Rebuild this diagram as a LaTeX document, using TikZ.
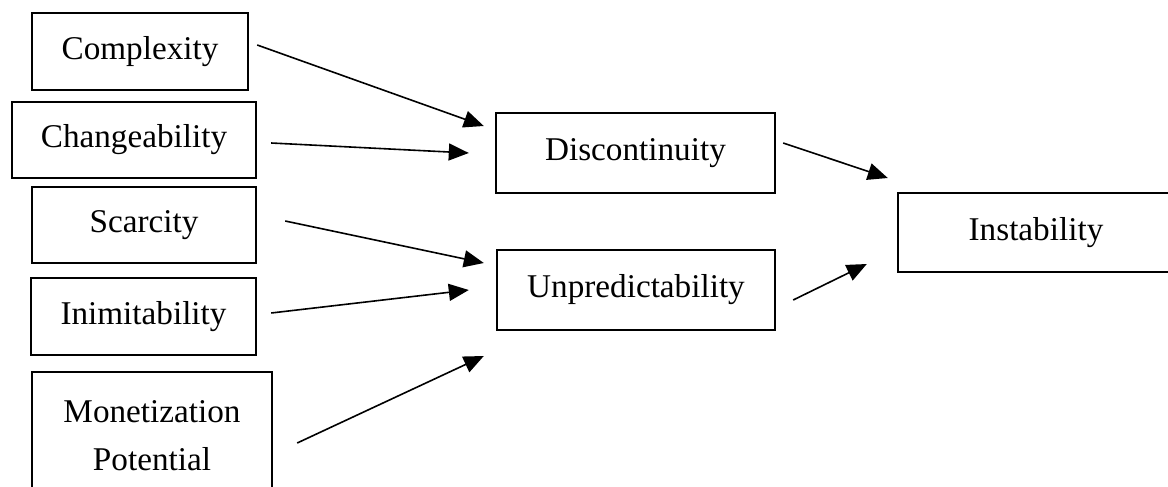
\documentclass[tikz,border=0pt]{standalone}
\usepackage{fontspec}
\setmainfont{Liberation Serif}
\usetikzlibrary{arrows.meta,calc}

\begin{document}
\begin{tikzpicture}[x=0.5pt, y=-0.5pt,
    box/.style={draw, line width=1.2pt, rectangle, inner sep=0pt, align=center,
                font=\fontsize{16.6}{24}\selectfont},
    arr/.style={line width=0.8pt, -{Triangle[length=10pt, width=8.5pt]}}]
    \useasboundingbox (0, 0) rectangle (1168, 487);
    \clip (0, 0) rectangle (1168, 487);

    % left column
    \node[box, minimum width=108pt, minimum height=38.5pt] (cplx) at (140, 51.5) {Complexity};
    \node[box, minimum width=122pt, minimum height=38pt] (chng) at (134, 140) {Changeability};
    \node[box, minimum width=112pt, minimum height=38pt] (scar) at (144, 225) {Scarcity};
    \node[box, minimum width=112.5pt, minimum height=38.5pt] (inim) at (143.5, 316.5) {Inimitability};
    \node[box, minimum width=120pt, minimum height=64pt] (mone) at (152, 436) {Monetization\\Potential};

    % middle and right
    \node[box, minimum width=139.5pt, minimum height=40pt] (disc) at (635.5, 153) {Discontinuity};
    \node[box, minimum width=139pt, minimum height=40pt] (unpr) at (636, 290) {Unpredictability};
    \node[box, minimum width=138pt, minimum height=39.5pt] (inst) at (1036, 232.5) {Instability};

    \draw[arr] ($(cplx.east)+(8, -6.5)$) -- ($(disc.west)+(-11, -27)$);
    \draw[arr] ($(chng.east)+(14, 3)$) -- ($(disc.west)+(-26, 0)$);
    \draw[arr] ($(scar.east)+(28, -4)$) -- ($(unpr.west)+(-12, -27)$);
    \draw[arr] ($(inim.east)+(14, -3.5)$) -- ($(unpr.west)+(-27, 0)$);
    \draw[arr] ($(mone.east)+(24, 7)$) -- ($(unpr.west)+(-12, 66)$);

    \draw[arr] ($(disc.east)+(7, -10)$) -- ($(inst.west)+(-9, -54.5)$);
    \draw[arr] ($(unpr.east)+(17, 10)$) -- ($(inst.west)+(-30, 31.5)$);
\end{tikzpicture}
\end{document}
